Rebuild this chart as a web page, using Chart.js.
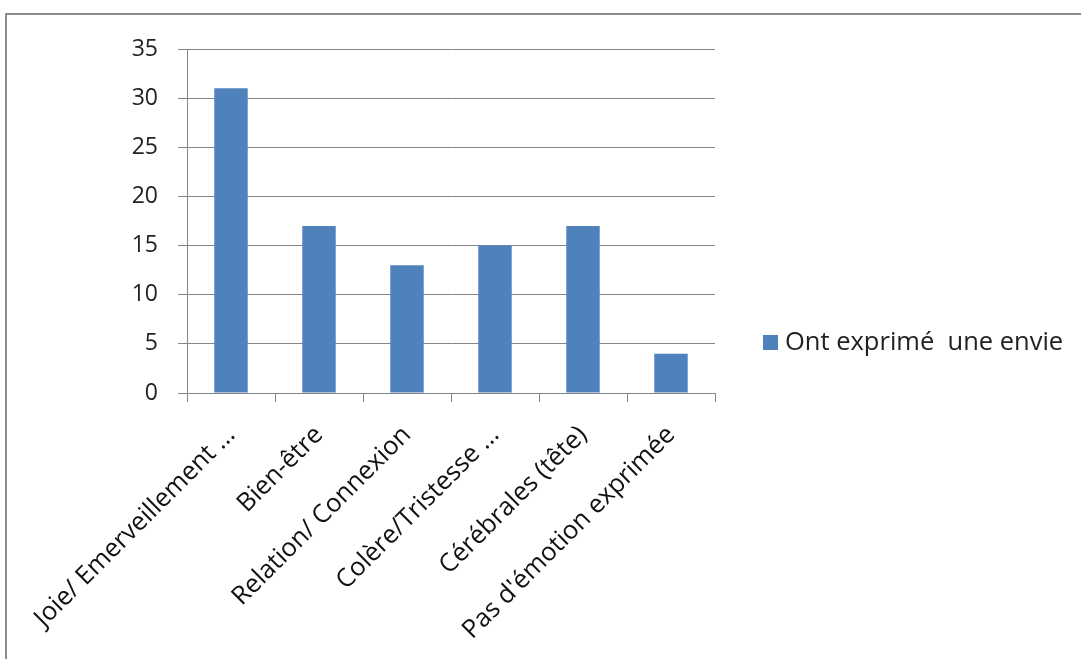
<!DOCTYPE html>
<html>
<head>
<meta charset="utf-8">
<script src="https://cdn.jsdelivr.net/npm/chart.js@4/dist/chart.umd.min.js"></script>
<style>
  html, body { margin: 0; padding: 0; background: #fff; overflow: hidden; }
  #frame {
    position: absolute; left: 5px; top: 13px; width: 1100px; height: 700px;
    border: 2px solid #8c8c8c; box-sizing: border-box;
  }
  #wrap { position: absolute; left: 0; top: 0; width: 1081px; height: 659px; }
</style>
</head>
<body>
<div id="frame"></div>
<div id="wrap"><canvas id="envieChart"></canvas></div>
<script>
const categories = ['Joie/ Emerveillement ...', 'Bien-être', 'Relation/ Connexion', 'Colère/Tristesse ...', 'Cérébrales (tête)', "Pas d'émotion exprimée"];
const envieValues = [31, 17, 13, 15, 17, 4];
const seriesLabel = 'Ont exprimé  une envie';
const yTicks = [0, 5, 10, 15, 20, 25, 30, 35];

const FONT = '"Open Sans", Lato, sans-serif';
const BAR = '#4F81BD';
const LINE = '#868686';

// Legend on the right, drawn by hand like the Excel one
const sideLegend = {
    id: 'sideLegend',
    afterDraw(chart) {
        const ctx = chart.ctx;
        const ds = chart.data.datasets[0];
        ctx.save();
        ctx.fillStyle = ds.backgroundColor;
        ctx.fillRect(763, 335, 15, 15);
        ctx.fillStyle = '#222';
        ctx.font = '25.5px ' + FONT;
        ctx.textBaseline = 'middle';
        ctx.fillText(ds.label, 785, 343);
        ctx.restore();
    }
};

const ctx = document.getElementById('envieChart').getContext('2d');
const chart = new Chart(ctx, {
    type: 'bar',
    data: {
        labels: categories,
        datasets: [{
            label: seriesLabel,
            data: envieValues,
            backgroundColor: BAR,
            barPercentage: 0.38,
            categoryPercentage: 1
        }]
    },
    options: {
        responsive: true,
        maintainAspectRatio: false,
        animation: false,
        layout: { padding: { left: 0, top: 49, right: 366, bottom: 0 } },
        plugins: {
            legend: { display: false },
            tooltip: { enabled: false }
        },
        scales: {
            x: {
                grid: { drawOnChartArea: false, drawTicks: true, tickLength: 9, color: LINE, offset: true },
                border: { color: LINE },
                ticks: {
                    autoSkip: false, minRotation: 45, maxRotation: 45, padding: 18,
                    color: '#111', font: { family: FONT, size: 25.5 }
                },
                afterFit: s => { s.height = 266; }
            },
            y: {
                min: 0, max: 35,
                afterBuildTicks: s => { s.ticks = yTicks.map(v => ({ value: v })); },
                grid: { color: LINE, tickLength: 9 },
                border: { color: LINE },
                ticks: { padding: 20, color: '#222', font: { family: FONT, size: 23 } },
                afterFit: s => { s.width = 187; }
            }
        }
    },
    plugins: [sideLegend]
});
</script>
</body>
</html>
